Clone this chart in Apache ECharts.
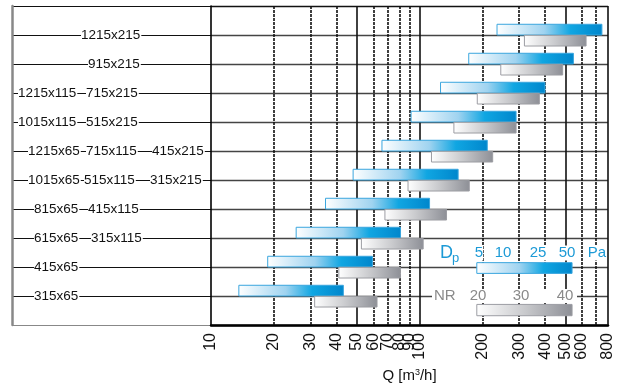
<!DOCTYPE html>
<html><head><meta charset="utf-8">
<script src="https://cdn.jsdelivr.net/npm/echarts@6/dist/echarts.min.js"></script>
<style>html,body{margin:0;padding:0;background:#fff}#c{width:617px;height:383px}</style>
</head><body><div id="c"></div>
<script>
// ---------- data ----------
const rowLabels = [
  ['1215x215'], ['915x215'], ['1215x115', '715x215'], ['1015x115', '515x215'],
  ['1215x65', '715x115', '415x215'], ['1015x65', '515x115', '315x215'],
  ['815x65', '415x115'], ['615x65', '315x115'], ['415x65'], ['315x65']
];
const blueStart = [235, 172, 126, 91, 66, 48, 35.4, 25.6, 18.7, 13.6];
const blueEnd   = [748, 546, 399, 290, 211, 153, 111.6, 81, 59.4, 43.1];
const grayStart = [318, 245, 189, 146, 114, 88, 68.2, 52.6, 41, 31.4];
const grayEnd   = [628, 485, 375, 290, 224, 173, 134.6, 104, 80.9, 62.5];
const xTicks = [10, 20, 30, 40, 50, 60, 70, 80, 90, 100, 200, 300, 400, 500, 600, 700, 800];
const solidTicks = [10, 50, 100, 500, 800];
const dpRange = [188, 538];
const nrRange = [188, 538];
const dpLabels = ['5', '10', '25', '50', 'Pa'];
const nrLabels = ['20', '30', '40'];

// ---------- layout (pixels / offsets) ----------
const labelX = [[81], [88], [18, 86], [18, 86], [28, 86, 152], [28, 84, 150], [34, 88], [34, 91], [34], [34]];
const blueOff = [0.37, 0.0];
const grayOff = [-0.01, -0.38];
const dpBarY = [2.15, 1.78];
const nrBarY = [0.71, 0.32];
const dpX = [479, 503, 538, 567, 597];
const nrX = [478, 521, 565];
const FONT = '"Liberation Sans", Arial, sans-serif';

const nRows = rowLabels.length;
const barData = [];
for (let i = 0; i < nRows; i++) {
  const v = nRows - i;
  barData.push([blueStart[i], blueEnd[i], v + blueOff[0], v + blueOff[1], 0]);
  barData.push([grayStart[i], grayEnd[i], v + grayOff[0], v + grayOff[1], 1]);
}
barData.push([dpRange[0], dpRange[1], dpBarY[0], dpBarY[1], 0]);
barData.push([nrRange[0], nrRange[1], nrBarY[0], nrBarY[1], 1]);

const blueGrad = {type: 'linear', x: 0, y: 0, x2: 1, y2: 0, colorStops: [
  {offset: 0, color: '#ffffff'}, {offset: 0.45, color: '#9fd3f0'},
  {offset: 0.7, color: '#10a6e2'}, {offset: 1, color: '#0086cc'}]};
const grayGrad = {type: 'linear', x: 0, y: 0, x2: 1, y2: 0, colorStops: [
  {offset: 0, color: '#ffffff'}, {offset: 0.5, color: '#c9cacd'},
  {offset: 1, color: '#8d8f96'}]};

const chart = echarts.init(document.getElementById('c'), null, {renderer: 'canvas'});

const leftLineColors = ['#888'].concat(Array(10).fill('#111'), ['#111']);
const plotLineColors = ['#000'].concat(Array(10).fill('#444'), ['#111']);

const vLines = xTicks.filter(t => t > 10).map(t => ({
  xAxis: t,
  lineStyle: {color: '#111', width: 1.6, type: solidTicks.includes(t) ? 'solid' : [3, 1]}
}));
const tickVals = xTicks.map(t => t * (1 - 1e-9) > 10 ? t * (1 - 1e-9) : t);

const graphics = [];
graphics.push({type: 'text', x: 440, y: 253, z: 20, style: {text: 'D', fill: '#1c9ad6', font: '18px ' + FONT, verticalAlign: 'middle', align: 'left', backgroundColor: '#fff'}});
graphics.push({type: 'text', x: 452, y: 258, z: 20, style: {text: 'p', fill: '#1c9ad6', font: '13px ' + FONT, verticalAlign: 'middle', align: 'left', backgroundColor: '#fff'}});
dpLabels.forEach((t, k) => graphics.push({type: 'text', x: dpX[k], y: 253, z: 20,
  style: {text: t, fill: '#1c9ad6', font: '15px ' + FONT, verticalAlign: 'middle', align: 'center', backgroundColor: '#fff'}}));
graphics.push({type: 'rect', shape: {x: 432, y: 289, width: 145, height: 14}, z: 19, style: {fill: '#fff'}});
graphics.push({type: 'text', x: 434, y: 296, z: 20, style: {text: 'NR', fill: '#8a8a8a', font: '15px ' + FONT, verticalAlign: 'middle', align: 'left'}});
nrLabels.forEach((t, k) => graphics.push({type: 'text', x: nrX[k], y: 296, z: 20,
  style: {text: t, fill: '#8a8a8a', font: '15px ' + FONT, verticalAlign: 'middle', align: 'center'}}));

chart.setOption({
  animation: false,
  backgroundColor: '#fff',
  grid: [
    {left: 12, top: 6, width: 199, height: 319, containLabel: false, outerBoundsMode: 'none'},
    {left: 211, top: 6, width: 397, height: 319, containLabel: false, outerBoundsMode: 'none'}
  ],
  xAxis: [
    {gridIndex: 0, type: 'value', min: 0, max: 1, show: false},
    {gridIndex: 1, type: 'log', logBase: 10, min: 10, max: 800,
      axisLine: {show: true, onZero: false, lineStyle: {color: '#000', width: 2.5}},
      axisTick: {show: false, customValues: tickVals},
      splitLine: {show: false},
      axisLabel: {customValues: tickVals, rotate: 90, margin: 8, color: '#111', fontSize: 16, fontFamily: FONT,
        showMinLabel: true, showMaxLabel: true, hideOverlap: false,
        formatter: v => String(Math.round(v))},
      name: 'Q [m{s|3}/h]', nameLocation: 'middle', nameGap: 39,
      nameTextStyle: {color: '#111', fontSize: 15, fontFamily: FONT,
        rich: {s: {fontSize: 9, fontFamily: FONT, color: '#111', padding: [0, 0, 8, 0]}}}}
  ],
  yAxis: [
    {gridIndex: 0, type: 'value', min: 0, max: 11, interval: 1,
      axisLine: {show: true, lineStyle: {color: '#888', width: 2.5}},
      axisTick: {show: false}, axisLabel: {show: false},
      splitLine: {show: true, lineStyle: {color: leftLineColors, width: 1.2}}},
    {gridIndex: 1, type: 'value', min: 0, max: 11, interval: 1,
      axisLine: {show: true, lineStyle: {color: '#000', width: 1.6}},
      axisTick: {show: false}, axisLabel: {show: false},
      splitLine: {show: true, lineStyle: {color: plotLineColors, width: 1.4}}}
  ],
  series: [
    {type: 'line', xAxisIndex: 1, yAxisIndex: 1, data: [], z: 1, silent: true,
      markLine: {silent: true, symbol: ['none', 'none'], label: {show: false}, animation: false, data: vLines}},
    {type: 'custom', xAxisIndex: 0, yAxisIndex: 0, z: 5, silent: true,
      data: rowLabels.map((_, i) => [0.5, nRows - i]),
      renderItem: function (params, api) {
        const i = params.dataIndex;
        const pt = api.coord([0, api.value(1)]);
        return {type: 'group', children: rowLabels[i].map((s, k) => ({
          type: 'text', x: pt[0] + labelX[i][k] - 12, y: pt[1],
          style: {text: s, fill: '#111', font: '13.5px ' + FONT, verticalAlign: 'middle', align: 'left',
            backgroundColor: '#fff', padding: [1, 1, 1, 0]}
        }))};
      }},
    {type: 'custom', xAxisIndex: 1, yAxisIndex: 1, z: 5, silent: true,
      encode: {x: [0, 1], y: [2, 3]},
      data: barData,
      renderItem: function (params, api) {
        const p0 = api.coord([api.value(0), api.value(2)]);
        const p1 = api.coord([api.value(1), api.value(3)]);
        const blue = api.value(4) === 0;
        return {type: 'rect',
          shape: {x: p0[0], y: p0[1], width: p1[0] - p0[0], height: p1[1] - p0[1]},
          style: {fill: blue ? blueGrad : grayGrad, stroke: blue ? '#3aa6de' : '#9c9da3', lineWidth: 1}};
      }}
  ],
  graphic: graphics
});
</script>
</body></html>
